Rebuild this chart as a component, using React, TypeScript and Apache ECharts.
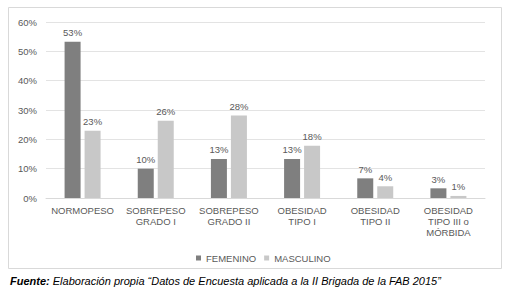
import React, { useEffect, useRef } from "react";
import * as echarts from "echarts";

const categories = [
  "NORMOPESO",
  "SOBREPESO\nGRADO I",
  "SOBREPESO\nGRADO II",
  "OBESIDAD\nTIPO I",
  "OBESIDAD\nTIPO II",
  "OBESIDAD\nTIPO III o\nMÓRBIDA",
];
const femenino = [53.3, 10.0, 13.3, 13.3, 6.7, 3.3];
const masculino = [22.9, 26.3, 28.1, 17.8, 4.0, 0.7];
const femeninoLabels = ["53%", "10%", "13%", "13%", "7%", "3%"];
const masculinoLabels = ["23%", "26%", "28%", "18%", "4%", "1%"];
const seriesNames = ["FEMENINO", "MASCULINO"];
const source = "Elaboración propia “Datos de Encuesta aplicada a la II Brigada de la FAB 2015”";

const FONT = "'Liberation Sans', Arial, sans-serif";
const TXT = "#595959";

export default function App() {
  const ref = useRef<HTMLDivElement>(null);
  useEffect(() => {
    if (!ref.current) return;
    const chart = echarts.init(ref.current, undefined, { renderer: "svg" });
    chart.setOption({
      animation: false,
      backgroundColor: "#ffffff",
      textStyle: { fontFamily: FONT },
      grid: { left: 46, right: 25, top: 22, bottom: 96 },
      legend: {
        data: seriesNames,
        left: 191,
        top: 248,
        itemWidth: 5,
        itemHeight: 5,
        itemGap: 8,
        icon: "rect",
        textStyle: { color: TXT, fontSize: 9.5, fontFamily: FONT },
      },
      xAxis: {
        type: "category",
        data: categories,
        axisTick: { show: false },
        axisLine: { lineStyle: { color: "#d9d9d9" } },
        axisLabel: { color: TXT, fontSize: 9.5, fontFamily: FONT, margin: 7, lineHeight: 11, interval: 0 },
      },
      yAxis: {
        type: "value",
        min: 0,
        max: 60,
        interval: 10,
        axisLabel: { formatter: "{value}%", color: TXT, fontSize: 9.5, fontFamily: FONT, margin: 9 },
        splitLine: { lineStyle: { color: "#e3e3e3" } },
        axisLine: { show: false },
        axisTick: { show: false },
      },
      series: [
        {
          name: seriesNames[0],
          type: "bar",
          data: femenino,
          barWidth: 16,
          barGap: "25%",
          itemStyle: { color: "#7f7f7f" },
          label: {
            show: true,
            position: "top",
            distance: 4,
            color: TXT,
            fontSize: 9.5,
            fontFamily: FONT,
            formatter: (p: any) => femeninoLabels[p.dataIndex],
          },
        },
        {
          name: seriesNames[1],
          type: "bar",
          data: masculino,
          barWidth: 16,
          itemStyle: { color: "#c8c8c8" },
          label: {
            show: true,
            position: "top",
            distance: 4,
            color: TXT,
            fontSize: 9.5,
            fontFamily: FONT,
            formatter: (p: any) => masculinoLabels[p.dataIndex],
          },
        },
      ],
      graphic: [
        {
          type: "rect",
          shape: { x: 8.5, y: 7.5, width: 493, height: 261 },
          style: { fill: "none", stroke: "#d9d9d9", lineWidth: 1 },
          silent: true,
        },
        {
          type: "text",
          x: 10,
          y: 281,
          style: {
            text: "{b|Fuente:} {i|" + source + "}",
            verticalAlign: "middle",
            rich: {
              b: { fontWeight: "bold", fontStyle: "italic", fontSize: 11, fontFamily: FONT, fill: "#000" },
              i: { fontStyle: "italic", fontSize: 11, fontFamily: FONT, fill: "#000" },
            },
            fontSize: 11,
            fontFamily: FONT,
            fontStyle: "italic",
            fill: "#000",
          },
        },
      ],
    });
    return () => chart.dispose();
  }, []);
  return (
    <div
      ref={ref}
      style={{ position: "fixed", left: 0, top: 0, width: 510, height: 294, background: "#fff" }}
    />
  );
}
